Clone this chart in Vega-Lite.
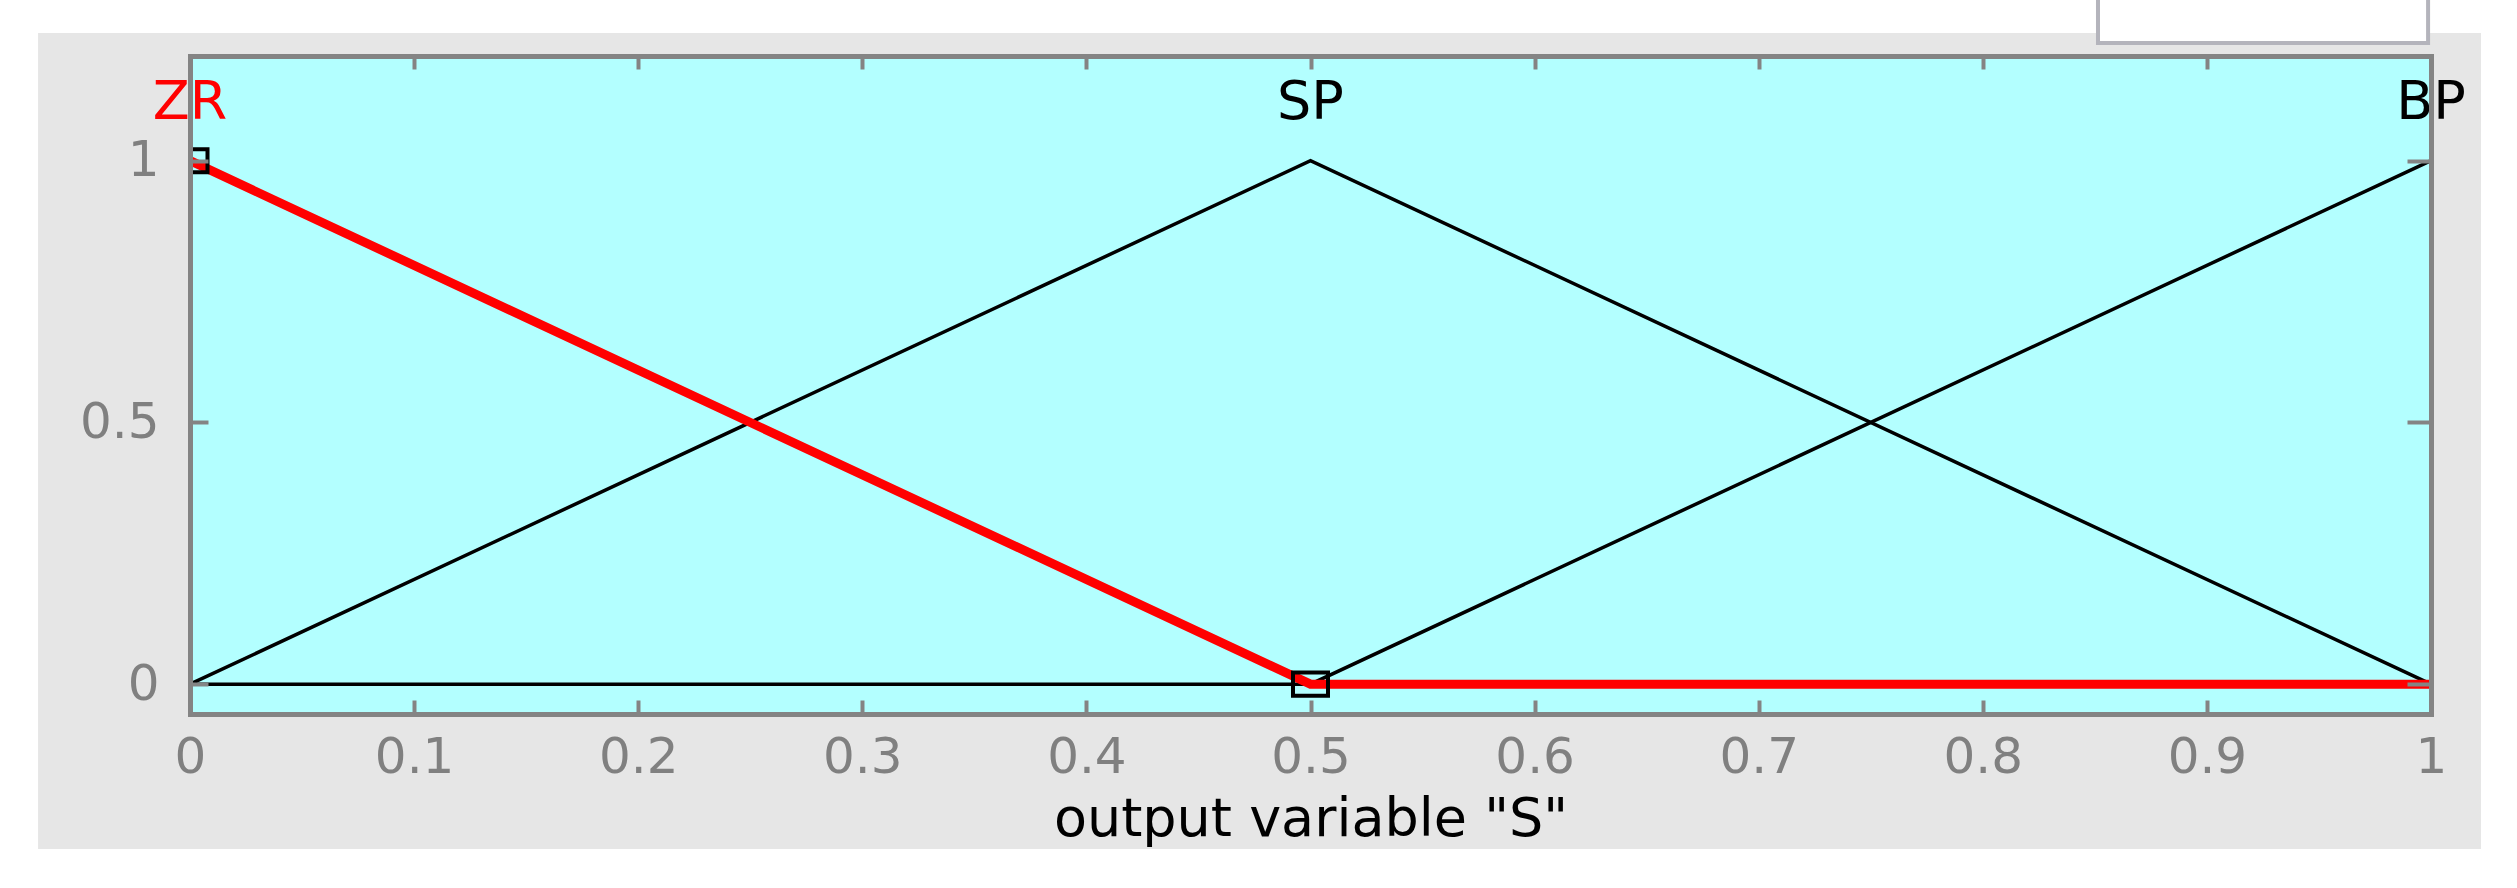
{
  "$schema": "https://vega.github.io/schema/vega-lite/v6.json",
  "autosize": "none",
  "width": 2241,
  "height": 658,
  "padding": {"left": 190, "top": 56, "right": 86, "bottom": 174},
  "background": "#ffffff",
  "config": {"view": {"stroke": null}, "font": "DejaVu Sans"},
  "datasets": {
    "mf": [
      {"mf": "ZR", "x": 0, "y": 1}, {"mf": "ZR", "x": 0.5, "y": 0}, {"mf": "ZR", "x": 1, "y": 0},
      {"mf": "SP", "x": 0, "y": 0}, {"mf": "SP", "x": 0.5, "y": 1}, {"mf": "SP", "x": 1, "y": 0},
      {"mf": "BP", "x": 0, "y": 0}, {"mf": "BP", "x": 0.5, "y": 0}, {"mf": "BP", "x": 1, "y": 1}
    ],
    "labels": [
      {"mf": "ZR", "peak": 0}, {"mf": "SP", "peak": 0.5}, {"mf": "BP", "peak": 1}
    ],
    "handles": [{"x": 0, "y": 1}, {"x": 0.5, "y": 0}]
  },
  "resolve": {"axis": {"x": "independent", "y": "independent"}},
  "layer": [
    {
      "data": {"values": [{}]},
      "mark": {"type": "rect", "fill": "#e6e6e6"},
      "encoding": {
        "x": {"datum": -0.0678, "type": "quantitative", "scale": {"domain": [0, 1], "nice": false, "zero": false}, "axis": null},
        "x2": {"datum": 1.0223},
        "y": {"datum": 1.2439, "type": "quantitative", "scale": {"domain": [-0.057, 1.2], "nice": false, "zero": false}, "axis": null},
        "y2": {"datum": -0.3148}
      }
    },
    {
      "data": {"values": [{}]},
      "mark": {"type": "rect", "fill": "#ffffff", "stroke": "#b4b4bc", "strokeWidth": 4},
      "encoding": {
        "x": {"datum": 0.8514, "type": "quantitative", "axis": null},
        "x2": {"datum": 0.9987},
        "y": {"datum": 1.345, "type": "quantitative", "axis": null},
        "y2": {"datum": 1.2248}
      }
    },
    {
      "data": {"values": [{}]},
      "mark": {"type": "rect", "fill": "#b3ffff"},
      "encoding": {
        "x": {"datum": 0, "type": "quantitative", "axis": {
          "orient": "bottom", "values": [0, 0.1, 0.2, 0.3, 0.4, 0.5, 0.6, 0.7, 0.8, 0.9, 1], "format": "~g",
          "title": "output variable \"S\"", "grid": false, "zindex": 1,
          "domainColor": "#848484", "domainWidth": 5, "domainCap": "square",
          "tickColor": "#848484", "tickWidth": 4, "tickSize": -14,
          "labelColor": "#808080", "labelFont": "DejaVu Sans", "labelFontSize": 50, "labelPadding": 32,
          "labelFlush": false, "labelOverlap": false,
          "titleColor": "#000000", "titleFont": "DejaVu Sans", "titleFontSize": 54, "titleFontWeight": "normal", "titlePadding": 10
        }},
        "x2": {"datum": 1},
        "y": {"datum": -0.057, "type": "quantitative", "axis": {
          "orient": "left", "values": [0, 0.5, 1], "format": "~g", "title": null, "grid": false, "zindex": 1,
          "domainColor": "#848484", "domainWidth": 5, "domainCap": "square",
          "tickColor": "#848484", "tickWidth": 4, "tickSize": -18,
          "labelColor": "#808080", "labelFont": "DejaVu Sans", "labelFontSize": 50, "labelPadding": 49,
          "labelFlush": false, "labelOverlap": false
        }},
        "y2": {"datum": 1.2}
      }
    },
    {
      "data": {"name": "mf"},
      "transform": [{"filter": "datum.mf !== 'ZR'"}],
      "mark": {"type": "line", "color": "#000000", "strokeWidth": 3.5},
      "encoding": {
        "x": {"field": "x", "type": "quantitative", "axis": {
          "orient": "top", "values": [0, 0.1, 0.2, 0.3, 0.4, 0.5, 0.6, 0.7, 0.8, 0.9, 1],
          "labels": false, "title": null, "grid": false, "zindex": 1,
          "domainColor": "#848484", "domainWidth": 5, "domainCap": "square",
          "tickColor": "#848484", "tickWidth": 4, "tickSize": -13
        }},
        "y": {"field": "y", "type": "quantitative", "axis": {
          "orient": "right", "values": [0, 0.5, 1],
          "labels": false, "title": null, "grid": false, "zindex": 1,
          "domainColor": "#848484", "domainWidth": 5, "domainCap": "square",
          "tickColor": "#848484", "tickWidth": 4, "tickSize": -24
        }},
        "detail": {"field": "mf"}
      }
    },
    {
      "data": {"name": "mf"},
      "transform": [{"filter": "datum.mf === 'ZR'"}],
      "mark": {"type": "line", "color": "#ff0000", "strokeWidth": 9},
      "encoding": {
        "x": {"field": "x", "type": "quantitative", "axis": null},
        "y": {"field": "y", "type": "quantitative", "axis": null}
      }
    },
    {
      "data": {"name": "handles"},
      "mark": {"type": "point", "shape": "M-1,-0.66L1,-0.66L1,0.66L-1,0.66Z", "filled": false, "stroke": "#000000", "strokeWidth": 4, "size": 1225, "opacity": 1, "clip": true},
      "encoding": {
        "x": {"field": "x", "type": "quantitative", "axis": null},
        "y": {"field": "y", "type": "quantitative", "axis": null}
      }
    },
    {
      "data": {"name": "labels"},
      "mark": {"type": "text", "font": "DejaVu Sans", "fontSize": 54, "align": "center", "baseline": "middle"},
      "encoding": {
        "x": {"field": "peak", "type": "quantitative", "axis": null},
        "y": {"datum": 1.11, "type": "quantitative", "axis": null},
        "text": {"field": "mf"},
        "color": {"field": "mf", "type": "nominal", "scale": {"domain": ["ZR", "SP", "BP"], "range": ["#ff0000", "#000000", "#000000"]}, "legend": null}
      }
    }
  ]
}
